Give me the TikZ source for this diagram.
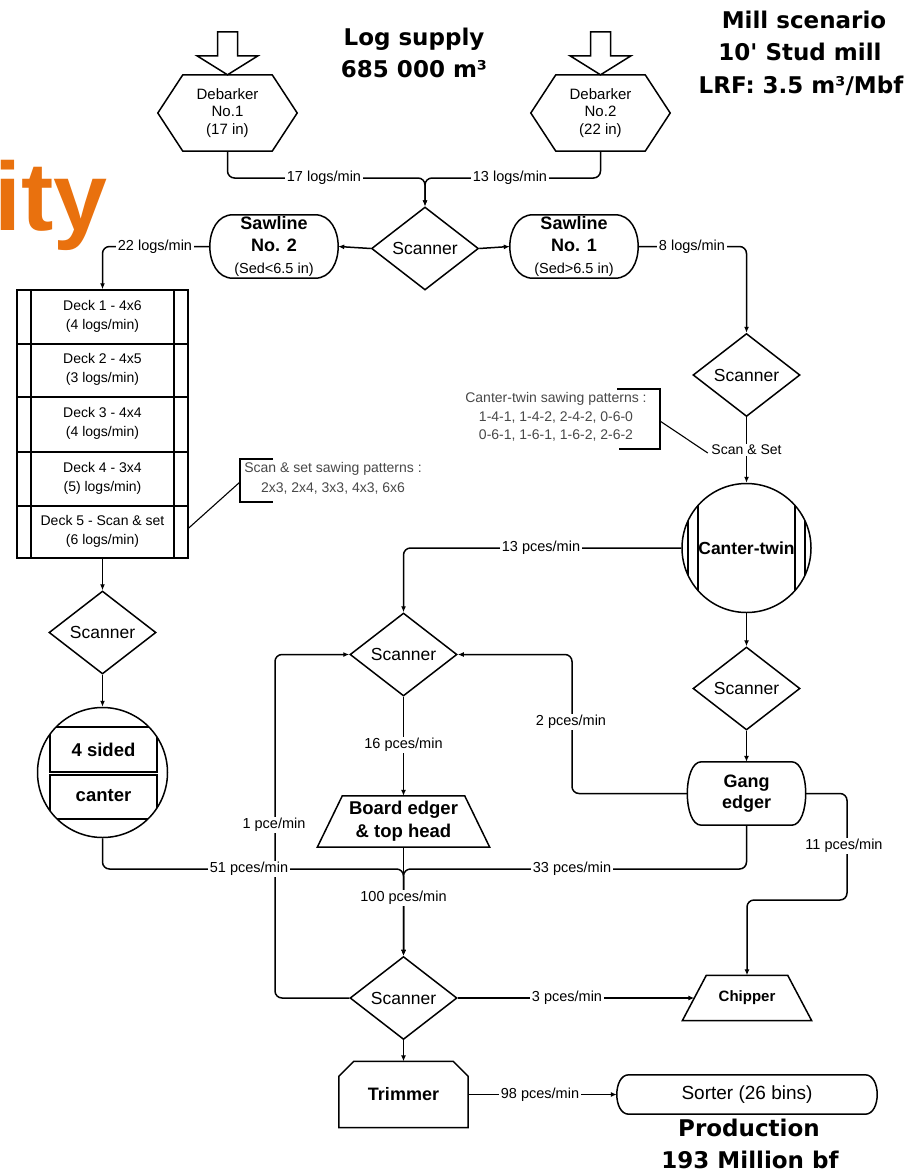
\documentclass[tikz,border=0pt]{standalone}
\usepackage{fontspec}
\setmainfont{Liberation Sans}
\newfontfamily\hdfont{DejaVu Sans}[Ligatures=TeXOff]
\usetikzlibrary{shapes.geometric,arrows.meta,calc}
\definecolor{ityorange}{RGB}{233,113,14}
\definecolor{notegray}{RGB}{72,72,72}
\newcommand\drawhexa[2]{\draw[outl] (#1.west) -- ($(#1.north west)+(#2,0)$) -- ($(#1.north east)+(-#2,0)$) -- (#1.east) -- ($(#1.south east)+(-#2,0)$) -- ($(#1.south west)+(#2,0)$) -- cycle;}
\newcommand\drawbulge[2]{\draw[outl] ($(#1.north west)+(#2,0)$) -- ($(#1.north east)+(-#2,0)$) .. controls ($(#1.north east)+({0.333*#2},0)$) and ($(#1.south east)+({0.333*#2},0)$) .. ($(#1.south east)+(-#2,0)$) -- ($(#1.south west)+(#2,0)$) .. controls ($(#1.south west)+({-0.333*#2},0)$) and ($(#1.north west)+({-0.333*#2},0)$) .. cycle;}
\newcommand\drawtrap[2]{\draw[outl] (#1.south west) -- ($(#1.north west)+(#2,0)$) -- ($(#1.north east)+(-#2,0)$) -- (#1.south east) -- cycle;}
\begin{document}
\begin{tikzpicture}[x=1pt, y=-1pt,
  outl/.style={line width=1.5pt, line join=miter},
  ln/.style={line width=1.5pt, rounded corners=7pt},
  arr/.style={ln, -{Latex[length=6pt,width=5pt]}},
  thinl/.style={line width=1.1pt},
  lbl/.style={fill=white, inner sep=1.5pt, font=\fontsize{14.5}{16}\selectfont},
  hidden/.style={shape=rectangle, inner sep=0pt, align=center},
  scan/.style={diamond, draw, line width=1.5pt, minimum width=107pt, minimum height=83pt, inner sep=0pt, font=\fontsize{17.5}{20}\selectfont},
  hd/.style={anchor=base, inner sep=0pt, font=\hdfont\bfseries\fontsize{23}{28}\selectfont},
  note/.style={align=center, inner sep=0pt, text=notegray},
  bold/.style={font=\bfseries\fontsize{18.5}{23}\selectfont},
  deckt/.style={align=center, inner sep=0pt, font=\fontsize{14}{19}\selectfont}
]
\useasboundingbox (0,0) rectangle (921,1175);

% headings
\node[anchor=base west, inner sep=0pt, text=ityorange, font=\bfseries\fontsize{97}{100}\selectfont] (ity) at (-6,230) {ity};
\node[hd] (h1) at (414,45) {Log supply};
\node[hd] (h2) at (414,77) {685 000 m³};
\node[hd] (h3) at (804,28) {Mill scenario};
\node[hd] (h4) at (800,60) {10' Stud mill};
\node[hd] (h5) at (801,93) {LRF: 3.5 m³/Mbf};
\node[hd] (h6) at (749,1136) {Production};
\node[hd] (h7) at (750,1168) {193 Million bf};

% debarkers
\node[hidden, minimum width=139pt, minimum height=76pt, font=\fontsize{15}{17.5}\selectfont] (d1) at (227.5,113) {Debarker\\No.1\\(17 in)};
\node[hidden, minimum width=139pt, minimum height=76pt, font=\fontsize{15}{17.5}\selectfont] (d2) at (600.5,113) {Debarker\\No.2\\(22 in)};
\drawhexa{d1}{25}
\drawhexa{d2}{25}
\draw[outl] (d1.north) -- ++(-30.5,-19) -- ++(20.5,0) -- ++(0,-24) -- ++(20,0) -- ++(0,24) -- ++(20.5,0) -- cycle;
\draw[outl] (d2.north) -- ++(-30.5,-19) -- ++(20.5,0) -- ++(0,-24) -- ++(20,0) -- ++(0,24) -- ++(20.5,0) -- cycle;

% scanners
\node[scan] (s1) at (425,248.5) {Scanner};
\node[scan] (s2) at (746.5,375) {Scanner};
\node[scan] (s3) at (102.5,632.5) {Scanner};
\node[scan] (s4) at (403.5,654.5) {Scanner};
\node[scan] (s5) at (403.5,998) {Scanner};
\node[scan] (s6) at (746.5,688.5) {Scanner};

% sawlines
\node[hidden, minimum width=128pt, minimum height=63pt, font=\bfseries\fontsize{18}{22}\selectfont] (saw2) at (274,246.5) {Sawline\\No. 2\\{\mdseries\fontsize{14.5}{16}\selectfont (Sed<6.5 in)}};
\node[hidden, minimum width=128pt, minimum height=63pt, font=\bfseries\fontsize{18}{22}\selectfont] (saw1) at (574,246.5) {Sawline\\No. 1\\{\mdseries\fontsize{14.5}{16}\selectfont (Sed>6.5 in)}};
\drawbulge{saw2}{23}
\drawbulge{saw1}{23}

% deck stack
\node[draw, line width=1.5pt, shape=rectangle, inner sep=0pt, minimum width=171pt, minimum height=268pt] (deck) at (102.5,424) {};
\draw[outl] (31,290) -- (31,558) (174,290) -- (174,558);
\draw[outl] (17,344) -- (188,344) (17,397) -- (188,397) (17,452) -- (188,452) (17,506) -- (188,506);
\node[deckt] (dk1) at (102.5,316) {Deck 1 - 4x6\\(4 logs/min)};
\node[deckt] (dk2) at (102.5,369.5) {Deck 2 - 4x5\\(3 logs/min)};
\node[deckt] (dk3) at (102.5,423.5) {Deck 3 - 4x4\\(4 logs/min)};
\node[deckt] (dk4) at (102.5,478) {Deck 4 - 3x4\\(5) logs/min)};
\node[deckt] (dk5) at (102.5,531) {Deck 5 - Scan \& set\\(6 logs/min)};

% 4 sided canter
\node[circle, draw, line width=1.5pt, minimum size=130pt, inner sep=0pt] (c4) at (102.5,772.5) {};
\begin{scope}
\clip (c4.center) circle (65);
\draw[outl] (50,727) rectangle (157,772);
\draw[outl] (50,775) rectangle (157,819);
\end{scope}
\node[inner sep=0pt, bold] (c4a) at (103.5,750) {4 sided};
\node[inner sep=0pt, bold] (c4b) at (103.5,796) {canter};

% canter-twin
\node[circle, draw, line width=1.5pt, minimum size=129pt, inner sep=0pt, font=\bfseries\fontsize{17.5}{20}\selectfont] (ct) at (746.5,548) {Canter-twin};
\draw[outl] ($(ct.center)+(-48.5,-42.6)$) -- ($(ct.center)+(-48.5,42.6)$);
\draw[outl] ($(ct.center)+(48.5,-42.6)$) -- ($(ct.center)+(48.5,42.6)$);
\draw[outl] ($(ct.center)+(-58.5,-27.2)$) -- ($(ct.center)+(-58.5,27.2)$);
\draw[outl] ($(ct.center)+(58.5,-27.2)$) -- ($(ct.center)+(58.5,27.2)$);

% gang edger
\node[hidden, minimum width=118pt, minimum height=63pt, font=\bfseries\fontsize{18}{21}\selectfont] (gang) at (746.5,793.5) {Gang\\edger};
\drawbulge{gang}{14}

% board edger
\node[hidden, minimum width=172pt, minimum height=51pt, font=\bfseries\fontsize{18.5}{23}\selectfont] (board) at (403.5,821.5) {Board edger\\\& top head};
\drawtrap{board}{25}

% chipper
\node[hidden, minimum width=129pt, minimum height=45pt, font=\bfseries\fontsize{15}{18}\selectfont] (chip) at (747,998) {Chipper};
\drawtrap{chip}{24}

% trimmer
\node[hidden, minimum width=129pt, minimum height=66pt, font=\bfseries\fontsize{18}{21}\selectfont] (trim) at (403.5,1094.5) {Trimmer};
\draw[outl] (trim.south west) -- ($(trim.north west)+(0,15)$) -- ($(trim.north west)+(15,0)$) -- ($(trim.north east)+(-15,0)$) -- ($(trim.north east)+(0,15)$) -- (trim.south east) -- cycle;

% sorter
\node[hidden, minimum width=260pt, minimum height=39pt, font=\fontsize{19}{22}\selectfont] (sorter) at (747,1094.5) {Sorter (26 bins)};
\drawbulge{sorter}{12}

% notes
\node[note, font=\fontsize{14}{18.5}\selectfont] (ctnote) at (556,417) {Canter-twin sawing patterns :\\1-4-1, 1-4-2, 2-4-2, 0-6-0\\0-6-1, 1-6-1, 1-6-2, 2-6-2};
\node[note, font=\fontsize{14}{20}\selectfont] (scnote) at (333,478) {Scan \& set sawing patterns :\\2x3, 2x4, 3x3, 4x3, 6x6};
\draw[thinl] (617,389) -- (660,389) -- (660,449) -- (619,449);
\draw[thinl] (273,459) -- (240,459) -- (240,502) -- (273,502);
\coordinate (ctb) at (660,421);
\coordinate (scb) at (240,482);

% connectors
\draw[arr] (d1.south) |- (425,178) -- (s1.north);
\draw[arr] (d2.south) |- (425,178) -- (s1.north);
\draw[arr] (s1.west) -- (saw2.east);
\draw[arr] (s1.east) -- (saw1.west);
\draw[arr] (saw2.west) -| (deck.north);
\draw[arr] (saw1.east) -| (s2.north);
\draw[arr] (deck.south) -- (s3.north);
\draw[arr] (s3.south) -- (c4.north);
\draw[arr] (s2.south) -- (ct.north);
\draw[arr] (ct.south) -- (s6.north);
\draw[arr] (s6.south) -- (gang.north);
\draw[arr] (ct.west) -| (s4.north);
\draw[arr] (s4.south) -- (board.north);
\draw[arr] (board.south) -- (s5.north);
\draw[arr] (c4.south) |- (403.5,869) -- (s5.north);
\draw[arr] (gang.south) |- (403.5,869) -- (s5.north);
\draw[arr] (gang.west) -| (572,654.5) -- (s4.east);
\draw[arr] (s5.west) -| (275,654.5) -- (s4.west);
\draw[arr] (gang.east) -| (847,900) -| (chip.north);
\draw[arr] (s5.east) -- ($(chip.west)+(12,0)$);
\draw[arr] (s5.south) -- (trim.north);
\draw[arr] (trim.east) -- (sorter.west);

% labels
\node[lbl] (l17) at (324,178) {17 logs/min};
\node[lbl] (l13) at (510,178) {13 logs/min};
\node[lbl] (l22) at (155,246.5) {22 logs/min};
\node[lbl] (l8) at (692,246.5) {8 logs/min};
\node[lbl, font=\fontsize{14}{16}\selectfont] (lscan) at (746.5,450) {Scan \& Set};
\node[lbl] (l13p) at (541,548) {13 pces/min};
\node[lbl] (l16) at (403.5,745) {16 pces/min};
\node[lbl] (l2) at (571,722) {2 pces/min};
\node[lbl] (l1) at (274,825) {1 pce/min};
\node[lbl] (l51) at (249,869) {51 pces/min};
\node[lbl] (l33) at (572,869) {33 pces/min};
\node[lbl] (l100) at (403.5,898) {100 pces/min};
\node[lbl] (l11) at (844,846) {11 pces/min};
\node[lbl] (l3) at (567,998) {3 pces/min};
\node[lbl] (l98) at (540,1094.5) {98 pces/min};

% callout leaders
\draw[thinl] (ctb) -- ($(lscan.west)+(-2,3)$);
\draw[thinl] (scb) -- ($(deck.east |- dk5)+(0,-3)$);
\end{tikzpicture}
\end{document}
